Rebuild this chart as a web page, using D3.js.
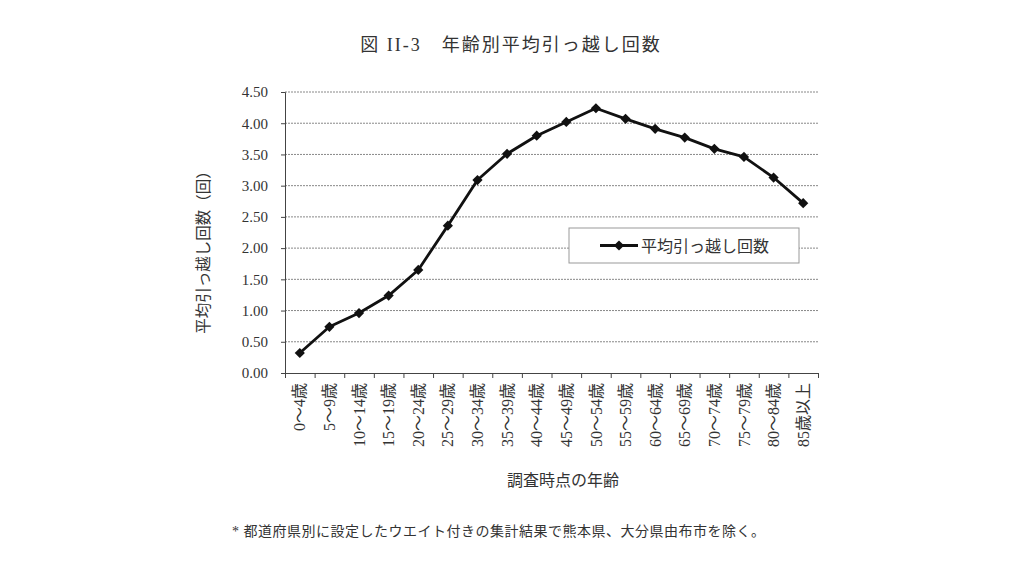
<!DOCTYPE html>
<html lang="ja">
<head>
    <meta charset="UTF-8">
    <title>年齢別平均引っ越し回数</title>
    <script src="https://d3js.org/d3.v7.min.js"></script>
    <style>
        body {
            margin: 0;
            background: #fff;
            font-family: "Liberation Serif", "Noto Sans CJK JP", serif;
        }
        text { fill: #333; }
    </style>
</head>
<body>
    <div id="chart"></div>
    <script>
        const categories = ["0～4歳", "5～9歳", "10～14歳", "15～19歳", "20～24歳", "25～29歳",
            "30～34歳", "35～39歳", "40～44歳", "45～49歳", "50～54歳", "55～59歳",
            "60～64歳", "65～69歳", "70～74歳", "75～79歳", "80～84歳", "85歳以上"];
        const values = [0.32, 0.74, 0.96, 1.24, 1.65, 2.36, 3.09, 3.51, 3.80, 4.02,
            4.24, 4.07, 3.91, 3.77, 3.59, 3.46, 3.13, 2.72];
        const yTicks = [0, 0.5, 1, 1.5, 2, 2.5, 3, 3.5, 4, 4.5];
        const seriesName = "平均引っ越し回数";

        const W = 1024, H = 576;
        const plotLeft = 285, plotRight = 818, plotTop = 92, plotBottom = 373;

        const svg = d3.select("#chart").append("svg")
            .attr("width", W)
            .attr("height", H);

        const x = d3.scaleBand().domain(categories).range([plotLeft, plotRight]).padding(0);
        const xEdge = d3.scaleLinear().domain([0, categories.length]).range([plotLeft, plotRight]);
        const y = d3.scaleLinear().domain([0, 4.5]).range([plotBottom, plotTop]);

        // gridlines (dotted)
        svg.append("g")
            .selectAll("line")
            .data(yTicks.filter(d => d > 0))
            .enter()
            .append("line")
            .attr("x1", plotLeft).attr("x2", plotRight)
            .attr("y1", d => y(d)).attr("y2", d => y(d))
            .attr("stroke", "#888")
            .attr("stroke-width", 1)
            .attr("stroke-dasharray", "2,1");

        // y axis
        const yAxis = svg.append("g")
            .attr("transform", `translate(${plotLeft},0)`)
            .call(d3.axisLeft(y).tickValues(yTicks).tickFormat(d3.format(".2f")).tickSize(4).tickPadding(13));
        yAxis.selectAll("path, line").attr("stroke", "#444");
        yAxis.selectAll("text")
            .style("font-size", "15px")
            .style("font-family", "'Liberation Serif', serif")
            .attr("fill", "#333");

        // x axis: boundary ticks
        const xAxis = svg.append("g")
            .attr("transform", `translate(0,${plotBottom})`)
            .call(d3.axisBottom(xEdge).tickValues(d3.range(categories.length + 1)).tickFormat("").tickSize(5).tickSizeOuter(0));
        xAxis.selectAll("path, line").attr("stroke", "#444");

        // x labels (rotated)
        const xLab = svg.append("g")
            .attr("transform", `translate(0,${plotBottom})`)
            .call(d3.axisBottom(x).tickSize(0).tickPadding(0));
        xLab.select(".domain").remove();
        xLab.selectAll("text")
            .attr("transform", "rotate(-90)")
            .attr("x", -10)
            .attr("y", 0)
            .attr("dy", "0.35em")
            .style("text-anchor", "end")
            .style("font-size", "16px")
            .style("font-family", "'Liberation Serif', 'Noto Sans CJK JP', serif")
            .attr("fill", "#333");

        // line
        const line = d3.line()
            .x((d, i) => x(categories[i]) + x.bandwidth() / 2)
            .y(d => y(d));

        svg.append("path")
            .datum(values)
            .attr("d", line)
            .attr("fill", "none")
            .attr("stroke", "#111")
            .attr("stroke-width", 2.8)
            .attr("stroke-linejoin", "round");

        const diamond = d3.symbol().type(d3.symbolSquare).size(52);
        svg.append("g")
            .selectAll("path")
            .data(values)
            .enter()
            .append("path")
            .attr("d", diamond)
            .attr("transform", (d, i) => `translate(${x(categories[i]) + x.bandwidth() / 2},${y(d)}) rotate(45)`)
            .attr("fill", "#111");

        // legend
        const lg = svg.append("g");
        lg.append("rect")
            .attr("x", 569).attr("y", 228)
            .attr("width", 230).attr("height", 35)
            .attr("fill", "#fff")
            .attr("stroke", "#999")
            .attr("stroke-width", 1);
        lg.append("line")
            .attr("x1", 600).attr("x2", 638)
            .attr("y1", 245.5).attr("y2", 245.5)
            .attr("stroke", "#111").attr("stroke-width", 2.8);
        lg.append("path")
            .attr("d", diamond)
            .attr("transform", "translate(619,245.5) rotate(45)")
            .attr("fill", "#111");
        lg.append("text")
            .attr("x", 641).attr("y", 246)
            .attr("dy", "0.35em")
            .style("font-size", "16px")
            .text(seriesName);

        // title
        svg.append("text")
            .attr("x", 511).attr("y", 45)
            .attr("dy", "0.35em")
            .attr("text-anchor", "middle")
            .style("font-size", "18px")
            .style("letter-spacing", "2px")
            .text("図 II-3　年齢別平均引っ越し回数");

        // y axis title
        svg.append("text")
            .attr("transform", `translate(204,${(plotTop + plotBottom) / 2 + 16}) rotate(-90)`)
            .attr("text-anchor", "middle")
            .attr("dy", "0.35em")
            .style("font-size", "15.5px")
            .text("平均引っ越し回数（回）");

        // x axis title
        svg.append("text")
            .attr("x", 563).attr("y", 480)
            .attr("dy", "0.35em")
            .attr("text-anchor", "middle")
            .style("font-size", "16px")
            .text("調査時点の年齢");

        // footnote
        svg.append("text")
            .attr("x", 232).attr("y", 531)
            .attr("dy", "0.35em")
            .style("font-size", "14px")
            .style("letter-spacing", "0.5px")
            .text("* 都道府県別に設定したウエイト付きの集計結果で熊本県、大分県由布市を除く。");
    </script>
</body>
</html>
